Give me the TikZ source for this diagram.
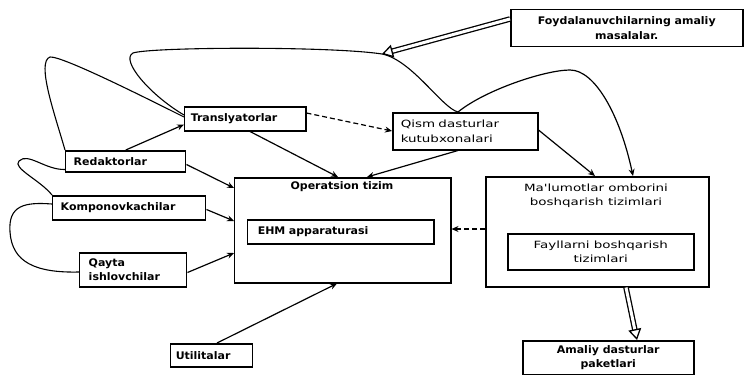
\documentclass[tikz,border=0pt]{standalone}
\usepackage{fontspec}
\usetikzlibrary{arrows.meta,calc}
\newfontfamily\labelbold[FakeStretch=1.05]{DejaVu Sans}
\newfontfamily\labellight[FakeStretch=1.35]{DejaVu Sans}
\begin{document}
\begin{tikzpicture}[x=1bp,y=-1bp,
  boldtext/.style={font=\labelbold\bfseries\fontsize{10.5}{14.5}\selectfont},
  lighttext/.style={font=\labellight\fontsize{10}{14.5}\selectfont},
  box/.style={draw, line width=1.5pt, inner sep=0pt, anchor=north west, boldtext},
  lightbox/.style={box, lighttext},
  conn/.style={line width=1.2pt, -{Stealth[length=7pt,width=6pt]}},
  dconn/.style={conn, dash pattern=on 5pt off 3pt},
  curveline/.style={line width=1.1pt},
  hollow/.style={double, double distance=3pt, line width=1.3pt,
    -{Triangle[open,length=11pt,width=13pt]}},
]
\fill[white] (0,0) rectangle (746,375);
\useasboundingbox (0,0) rectangle (746,375);

% boxes
\node[box, minimum width=232bp, minimum height=37bp, align=center] (foy) at (510,9)
  {Foydalanuvchilarning amaliy\\masalalar.};
\node[box, minimum width=121bp, minimum height=24bp, text width=109bp, align=left] (tr) at (184,106)
  {Translyatorlar};
\node[box, minimum width=120bp, minimum height=21bp, text width=104bp, align=left] (red) at (65,150)
  {Redaktorlar};
\node[box, minimum width=153bp, minimum height=24bp, text width=137bp, align=left] (komp) at (52,195)
  {Komponovkachilar};
\node[box, minimum width=107bp, minimum height=34bp, text width=89bp, align=left] (qayta) at (79,252)
  {Qayta\\ishlovchilar};
\node[box, minimum width=82bp, minimum height=23bp, text width=72bp, align=left] (util) at (170,343)
  {Utilitalar};
\node[box, minimum width=216bp, minimum height=105bp] (os) at (234,177) {};
\node[boldtext] (ostitle) at (342,187) {Operatsion tizim};
\node[box, minimum width=186bp, minimum height=24bp, text width=166bp, align=left] (ehm) at (247,219)
  {EHM apparaturasi};
\node[lightbox, minimum width=145bp, minimum height=37bp, text width=129bp, align=left] (qism) at (392,112)
  {Qism dasturlar\\kutubxonalari};
\node[box, minimum width=223bp, minimum height=110bp] (mal) at (485,176) {};
\node[lighttext, align=center] (maltitle) at (596,195.5)
  {Ma'lumotlar omborini\\boshqarish tizimlari};
\node[lightbox, minimum width=186bp, minimum height=36bp, align=center] (fay) at (507,233)
  {Fayllarni boshqarish\\tizimlari};
\node[box, minimum width=171bp, minimum height=33.5bp, align=center] (amal) at (522,340)
  {Amaliy dasturlar\\paketlari};

% points on the long curve
\coordinate (hit) at (382,54);
\coordinate (qtop) at ($(qism.north west)+(66,0)$);

% straight connectors
\draw[conn] (red.north) -- ($(tr.south west)+(0,-7)$);
\draw[conn] ($(red.south east)+(0,-8)$) -- ($(os.north west)+(0,11)$);
\draw[conn] ($(komp.south east)+(0,-11)$) -- ($(os.north west)+(0,44)$);
\draw[conn] ($(qayta.south east)+(0,-15)$) -- ($(os.north west)+(0,76)$);
\draw[conn] ($(util.north west)+(47,0)$) -- ($(os.south west)+(103,0)$);
\draw[conn] ($(tr.south west)+(66,0)$) -- ($(os.north west)+(104,0)$);
\draw[conn] ($(qism.south west)+(66,0)$) -- ($(os.north west)+(133,0)$);
\draw[dconn] ($(tr.north east)+(0,7)$) -- ($(qism.north west)+(0,19)$);
\draw[conn] ($(qism.north east)+(0,18)$) -- ($(mal.north west)+(110,0)$);
\draw[dconn] ($(mal.north west)+(0,53)$) -- ($(os.north east)+(0,52)$);

% hollow arrows
\draw[hollow] ($(foy.north west)+(0,10)$) -- (hit);
\draw[hollow] ($(mal.south west)+(141,0)$) -- ($(amal.north west)+(115,0)$);

% curved links on the left
\draw[curveline] (red.north west) .. controls (55,115) and (36,62) .. (50,57)
  .. controls (62,56) and (140,95) .. ($(tr.north west)+(0,11)$);
\draw[curveline] ($(red.south west)+(0,-3)$) .. controls (45,170) and (28,152) .. (19,161)
  .. controls (12,168) and (40,180) .. (komp.north west);
\draw[curveline] ($(komp.north west)+(0,9)$) .. controls (25,202) and (8,205) .. (10,232)
  .. controls (12,262) and (35,273) .. ($(qayta.north west)+(0,20)$);

% long curve over the top
\draw[curveline] ($(tr.north west)+(0,9)$) .. controls (150,95) and (120,60) .. (133,53)
  .. controls (150,47) and (330,46) .. (hit)
  .. controls (412,60) and (442,108) .. (qtop);
\draw[conn] (qtop) .. controls (485,90) and (545,70) .. (570,70)
  .. controls (595,70) and (620,115) .. ($(mal.north west)+(148,0)$);
\end{tikzpicture}
\end{document}
